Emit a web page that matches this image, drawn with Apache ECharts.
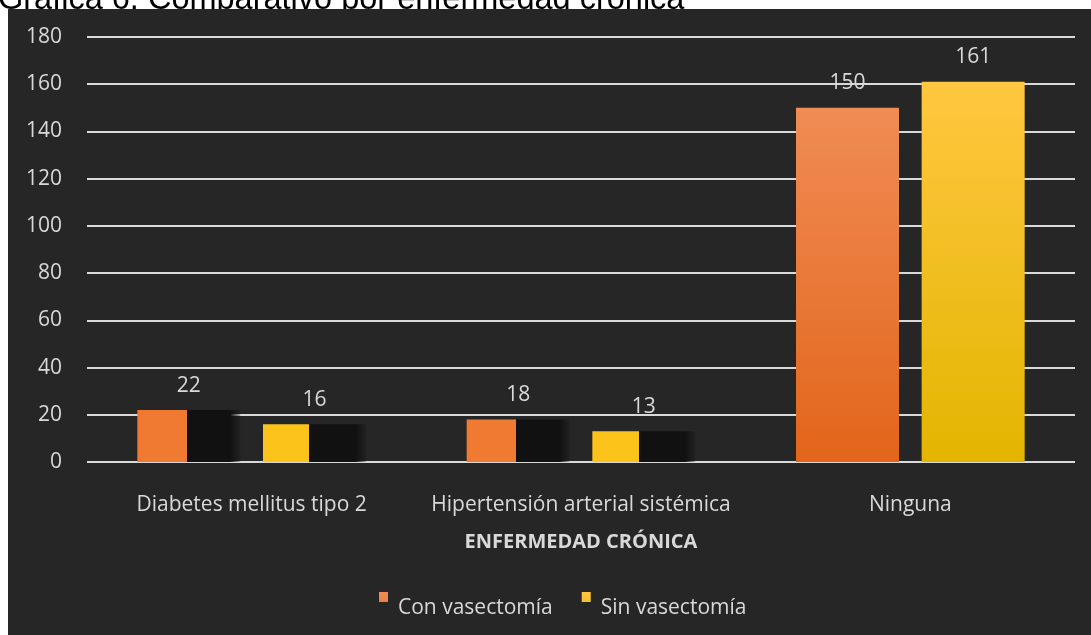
<!DOCTYPE html>
<html>
<head>
<meta charset="utf-8">
<script src="https://cdn.jsdelivr.net/npm/echarts@6/dist/echarts.min.js"></script>
<style>
  html, body { margin: 0; padding: 0; background: #fff; }
  #chart { width: 1091px; height: 635px; }
</style>
</head>
<body>
<div id="chart"></div>
<script>
const categories = ['Diabetes mellitus tipo 2', 'Hipertensión arterial sistémica', 'Ninguna'];
const conVasectomia = [22, 18, 150];
const sinVasectomia = [16, 13, 161];
const seriesNames = ['Con vasectomía', 'Sin vasectomía'];
const yTicks = { min: 0, max: 180, interval: 20 };

// excel drew the small bars half coloured, half dark shadow
const shadowed = [true, true, false];

const labelColor = '#d9d9d9';
const font = '"Open Sans", "Noto Sans", sans-serif';

const vGrad = (top, bottom) => new echarts.graphic.LinearGradient(0, 0, 0, 1, [
  { offset: 0, color: top },
  { offset: 1, color: bottom }
]);

const hSplit = (color, frac) => new echarts.graphic.LinearGradient(0, 0, 1, 0, [
  { offset: 0, color: color },
  { offset: frac, color: color },
  { offset: frac, color: '#111111' },
  { offset: 0.9, color: '#111111' },
  { offset: 1, color: 'rgba(17,17,17,0.2)' }
]);

const orange = vGrad('#f08c55', '#e2651a');
const yellow = vGrad('#ffc740', '#e3b500');

const toData = (vals, flatColor, frac) => vals.map((v, i) => shadowed[i]
  ? { value: v, itemStyle: { color: hSplit(flatColor, frac) } }
  : v);

// legend square sits high, above the text middle, with some room after it
const legendIcon = 'path://M0,0L9,0L9,10L0,10Z M14,32L14.01,32Z';

const chart = echarts.init(document.getElementById('chart'));

chart.setOption({
  backgroundColor: '#ffffff',
  animation: false,
  graphic: [
    {
      type: 'text',
      z: -20,
      left: -2,
      top: -16,
      style: {
        text: 'Gráfica 6. Comparativo por enfermedad crónica',
        font: '32.5px "Liberation Sans", Arial, sans-serif',
        fill: '#000'
      }
    },
    {
      type: 'rect',
      z: -10,
      shape: { x: 8, y: 9, width: 1083, height: 626 },
      style: { fill: '#262626' }
    }
  ],
  grid: { left: 87, right: 16, top: 37, bottom: 173 },
  legend: {
    bottom: 6,
    left: 374,
    icon: legendIcon,
    itemWidth: 14,
    itemHeight: 32,
    itemGap: 29,
    textStyle: { color: labelColor, fontSize: 21, fontFamily: font }
  },
  xAxis: {
    type: 'category',
    data: categories,
    name: 'ENFERMEDAD CRÓNICA',
    nameLocation: 'middle',
    nameGap: 70,
    nameTextStyle: { color: labelColor, fontSize: 20, fontWeight: 'bold', fontFamily: font },
    axisLine: { show: false },
    axisTick: { show: false },
    axisLabel: { color: labelColor, fontSize: 21, fontFamily: font, margin: 33, interval: 0 }
  },
  yAxis: {
    type: 'value',
    min: yTicks.min,
    max: yTicks.max,
    interval: yTicks.interval,
    axisLine: { show: false },
    axisTick: { show: false },
    axisLabel: { color: labelColor, fontSize: 21, fontFamily: font, margin: 25 },
    splitLine: { lineStyle: { color: '#d9d9d9', width: 2 } }
  },
  series: [
    {
      name: seriesNames[0],
      type: 'bar',
      barWidth: 103,
      barGap: '22%',
      data: toData(conVasectomia, '#f07a32', 0.48),
      itemStyle: { color: orange },
      label: { show: true, position: 'top', distance: 14, color: labelColor, fontSize: 21, fontFamily: font }
    },
    {
      name: seriesNames[1],
      type: 'bar',
      barWidth: 103,
      data: toData(sinVasectomia, '#fcc41a', 0.45),
      itemStyle: { color: yellow },
      label: { show: true, position: 'top', distance: 14, color: labelColor, fontSize: 21, fontFamily: font }
    }
  ]
});
</script>
</body>
</html>
